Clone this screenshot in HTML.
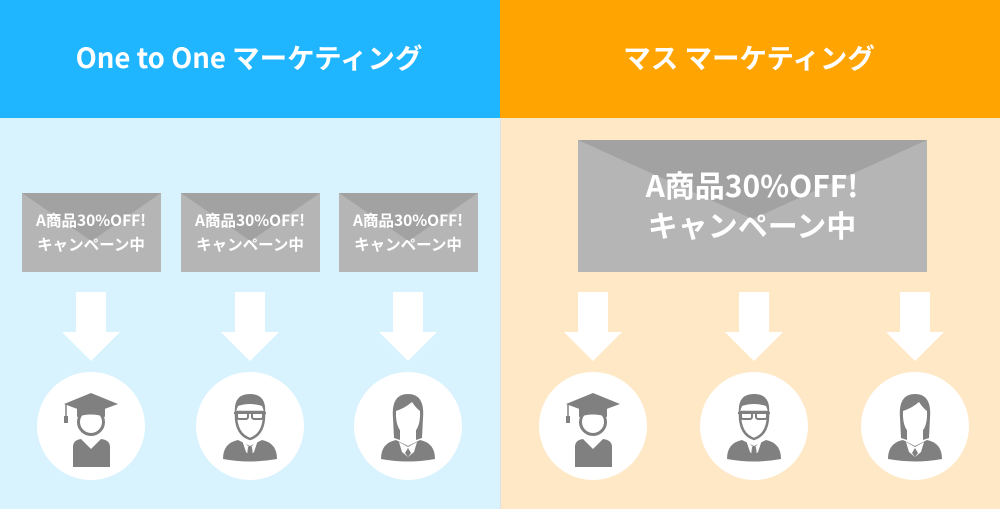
<!DOCTYPE html>
<html><head><meta charset="utf-8"><style>
body{margin:0;width:1000px;height:509px;overflow:hidden;font-family:"Noto Sans CJK JP","Liberation Sans",sans-serif;}
</style></head><body>
<svg width="1000" height="509" viewBox="0 0 1000 509" xmlns="http://www.w3.org/2000/svg" font-family="Noto Sans CJK JP, Liberation Sans, sans-serif">
<defs>
<g id="arrow"><rect x="-15" y="0" width="30" height="42" fill="#fff"/><polygon points="-29,40 29,40 0,69" fill="#fff"/></g>
<g id="grad">
<circle r="54" fill="#fff"/>
<path d="M-18,41 L-18,21 Q-18,14 -10,13 L0,23 L10,13 Q19,14 19,21 L19,41 Z" fill="#808080"/>
<circle cx="0" cy="-4" r="12.5" fill="#fff" stroke="#808080" stroke-width="3"/>
<path d="M-14,-18 L14,-18 L14,-9 Q0,-14 -14,-9 Z" fill="#808080"/>
<polygon points="-27,-22 0,-33 27,-22 0,-12" fill="#808080"/>
<line x1="-25" y1="-22" x2="-25" y2="-8" stroke="#808080" stroke-width="1.5"/>
<rect x="-27" y="-10" width="4" height="7" fill="#808080"/>
</g>
<g id="man">
<circle r="54" fill="#fff"/>
<path d="M-27,33 Q-27,17 -12,14 L0,20 L12,14 Q27,17 27,33 Q0,38 -27,33 Z" fill="#808080"/>
<path d="M-14,-14 Q-15,8 0,13 Q15,8 14,-14 Z" fill="#fff" stroke="#808080" stroke-width="2.5"/>
<path d="M-15,-12 Q-17,-32 0,-32 Q17,-32 15,-12 L12,-20 Q0,-24 -12,-20 Z" fill="#808080"/>
<rect x="-13" y="-14" width="11" height="7" rx="2" fill="none" stroke="#808080" stroke-width="2"/>
<rect x="2" y="-14" width="11" height="7" rx="2" fill="none" stroke="#808080" stroke-width="2"/>
<line x1="-16" y1="-13" x2="16" y2="-13" stroke="#808080" stroke-width="2"/>
<polygon points="-8,14 0,22 8,14 4,26 0,30 -4,26" fill="#fff"/>
<polygon points="-2,21 2,21 3,30 0,33 -3,30" fill="#808080"/>
</g>
<g id="woman">
<circle r="54" fill="#fff"/>
<path d="M-27,33 Q-27,17 -12,14 L0,20 L12,14 Q27,17 27,33 Q0,38 -27,33 Z" fill="#808080"/>
<path d="M-15,-8 Q-17,-32 0,-32 Q17,-32 15,-8 L14,12 L8,14 L8,0 L-8,0 L-8,14 L-14,12 Z" fill="#808080"/>
<path d="M-12,-15 Q-3,-18 4,-24 Q8,-18 12,-15 Q13,6 0,10 Q-13,6 -12,-15 Z" fill="#fff"/>
<polygon points="-9,16 0,21 9,16 6,26 0,31 -6,26" fill="#fff"/>
<polygon points="0,22 3,27 0,31 -3,27" fill="#808080"/>
</g>
<g id="env">
<rect x="0" y="0" width="139" height="79" fill="#b5b5b5"/>
<polygon points="0,0 139,0 69.5,48" fill="#a2a2a2"/>
</g>
</defs>
<rect x="0" y="0" width="500" height="118" fill="#1fb5ff"/>
<rect x="0" y="118" width="500" height="391" fill="#d8f2fe"/>
<rect x="500" y="0" width="500" height="118" fill="#ffa400"/>
<rect x="500" y="118" width="500" height="391" fill="#fee8c6"/>
<line x1="500.5" y1="118" x2="500.5" y2="509" stroke="#e0e0e0" stroke-width="1"/>
<text x="249" y="68" font-size="27.5" font-weight="bold" fill="#fff" text-anchor="middle">One to One マーケティング</text>
<text x="749" y="68" font-size="27.5" font-weight="bold" fill="#fff" text-anchor="middle">マス マーケティング</text>

<g font-size="15.5" font-weight="bold" fill="#fff" text-anchor="middle">
<use href="#env" x="22" y="193"/>
<text x="91" y="226">A商品30%OFF!</text><text x="91" y="250">キャンペーン中</text>
<use href="#env" x="181" y="193"/>
<text x="250" y="226">A商品30%OFF!</text><text x="250" y="250">キャンペーン中</text>
<use href="#env" x="339" y="193"/>
<text x="408" y="226">A商品30%OFF!</text><text x="408" y="250">キャンペーン中</text>
</g>

<rect x="578" y="140" width="349" height="132" fill="#b5b5b5"/>
<polygon points="578,140 927,140 752.5,219" fill="#a2a2a2"/>
<text x="752" y="197" font-size="30" font-weight="bold" fill="#fff" text-anchor="middle">A商品30%OFF!</text>
<text x="752" y="237" font-size="30" font-weight="bold" fill="#fff" text-anchor="middle">キャンペーン中</text>

<use href="#arrow" x="91" y="292"/>
<use href="#arrow" x="250" y="292"/>
<use href="#arrow" x="408" y="292"/>
<use href="#arrow" x="593" y="292"/>
<use href="#arrow" x="754" y="292"/>
<use href="#arrow" x="915" y="292"/>

<use href="#grad" x="91" y="426"/>
<use href="#man" x="250" y="426"/>
<use href="#woman" x="408" y="426"/>
<use href="#grad" x="593" y="426"/>
<use href="#man" x="754" y="426"/>
<use href="#woman" x="915" y="426"/>
</svg>
</body></html>
